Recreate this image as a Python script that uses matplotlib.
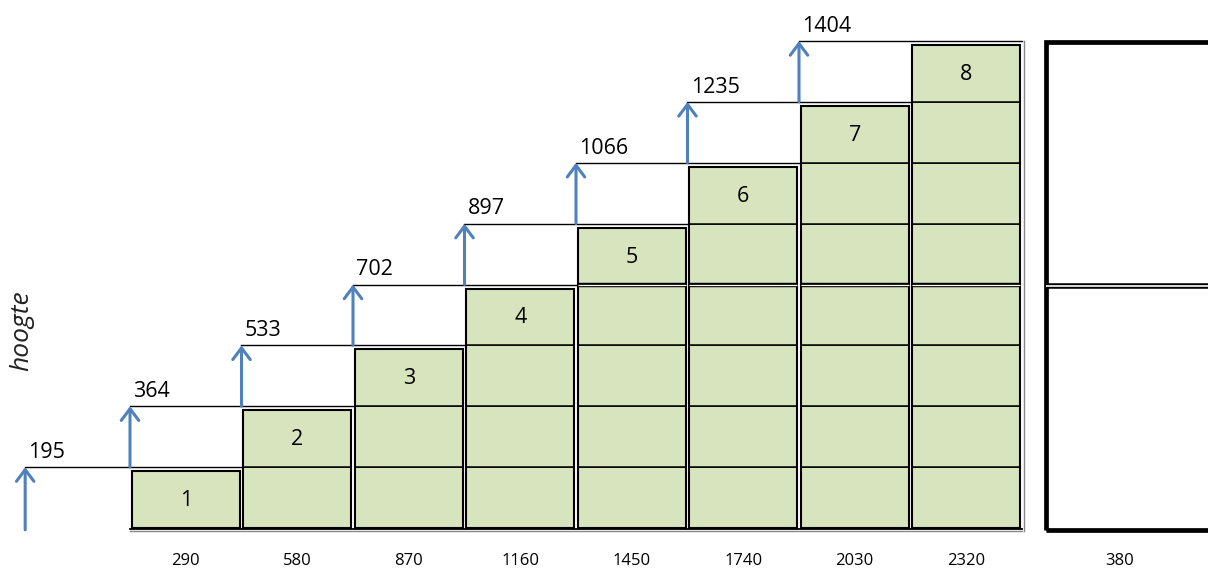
import matplotlib
matplotlib.use('Agg')
import matplotlib.pyplot as plt
from matplotlib.patches import Rectangle

# ---- data ----
heights = [195, 364, 533, 702, 897, 1066, 1235, 1404]
widths = [290, 580, 870, 1160, 1450, 1740, 2030, 2320]
box_labels = ['1', '2', '3', '4', '5', '6', '7', '8']
extra_width_label = '380'
ylabel = 'hoogte'

GREEN = '#d7e4bd'
BLUE = '#4f81bd'
plt.rcParams['font.family'] = ['Open Sans', 'DejaVu Sans']

fig = plt.figure(figsize=(12.08, 5.69), dpi=100)
ax = fig.add_axes([0, 0, 1, 1])
COLW, ROWH, X0, Y0 = 111.5, 60.875, 130, 528
ax.set_xlim(-X0 / COLW, (1208 - X0) / COLW)
ax.set_ylim(-(569 - Y0) / ROWH, Y0 / ROWH)
ax.axis('off')

n = len(heights)
dx = 1.6 / COLW
top_gap = 4.0 / ROWH

# staircase columns of boxes
for c in range(n):
    ncol = c + 1
    for r in range(ncol):
        h = 1.0 - (top_gap if r == ncol - 1 else 0)
        ax.add_patch(Rectangle((c + dx, r), 1 - 2 * dx, h, facecolor=GREEN,
                               edgecolor='black', lw=1.1, zorder=2))
    ax.add_patch(Rectangle((c + dx, 0), 1 - 2 * dx, ncol - top_gap, fill=False,
                           edgecolor='black', lw=1.5, zorder=3))
    # label in the top box
    ax.text(c + 0.5, ncol - 0.55, box_labels[c], ha='center', va='center',
            fontsize=15.5, zorder=4)
    # width label under column
    ax.text(c + 0.5, -0.54, str(widths[c]), ha='center', va='center',
            fontsize=12, zorder=4)
    # thicker (double) line at row 4 level
    if ncol > 4:
        ax.plot([c + dx, c + 1 - dx], [4, 4], color='black', lw=3.2, zorder=3,
                solid_capstyle='butt')
        ax.plot([c + dx, c + 1 - dx], [4, 4], color='white', lw=0.9, zorder=3,
                solid_capstyle='butt')

# bottom double line
ax.plot([0, n], [-0.01, -0.01], color='black', lw=1.3, zorder=3)
ax.plot([0, n], [-0.055, -0.055], color='#888888', lw=1.0, zorder=3)
ax.plot([n + 0.02, n + 0.02], [-0.055, n], color='#888888', lw=1.0, zorder=3)

# level lines, arrows and height labels
for k in range(1, n + 1):
    xa = -0.94 if k == 1 else k - 2
    ya0 = -0.03 if k == 1 else k - 1
    ax.plot([xa, k], [k, k], color='black', lw=1.0, zorder=3)
    ax.annotate('', xy=(xa, k), xytext=(xa, ya0),
                arrowprops=dict(arrowstyle='->,head_length=0.6,head_width=0.45',
                                color=BLUE, lw=2.2, mutation_scale=14,
                                shrinkA=0, shrinkB=0), zorder=5)
    ax.text(xa + 0.03, k + 0.15, str(heights[k - 1]), ha='left', va='baseline',
            fontsize=15.5, zorder=4)

# extra box on the right
bx = (1046 - X0) / COLW
ax.add_patch(Rectangle((bx, -0.03), 3, 8.02, fill=False, edgecolor='black',
                       lw=3.4, zorder=3))
ax.plot([bx, bx + 3], [3.98, 3.98], color='black', lw=4.0, zorder=3,
        solid_capstyle='butt')
ax.plot([bx, bx + 3], [3.98, 3.98], color='white', lw=1.2, zorder=3,
        solid_capstyle='butt')
ax.text((1120 - X0) / COLW, -0.54, extra_width_label, ha='center', va='center',
        fontsize=12)

# vertical axis label
ax.text((22 - X0) / COLW, (Y0 - 331) / ROWH, ylabel, rotation=90, ha='center',
        va='center', fontsize=19, style='italic', color='#222222')

fig.savefig('out.png', dpi=100)
